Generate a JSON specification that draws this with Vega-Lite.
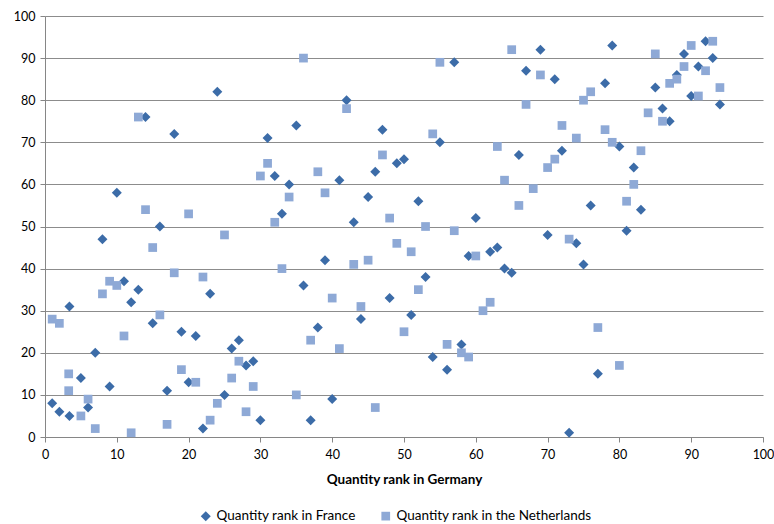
{
  "$schema": "https://vega.github.io/schema/vega-lite/v6.json",
  "width": 718,
  "height": 421,
  "autosize": {"type": "none"},
  "padding": {"left": 45, "top": 16, "right": 11, "bottom": 87},
  "background": "white",
  "config": {
    "view": {"stroke": null},
    "font": "Lato",
    "axis": {
      "labelFont": "Lato",
      "titleFont": "Lato",
      "labelColor": "#000000",
      "titleColor": "#000000",
      "labelFontSize": 12.5,
      "domainColor": "#868686",
      "tickColor": "#868686",
      "tickSize": 5
    }
  },
  "datasets": {
    "ranks": [
      {"germany": 1, "rank": 8, "series": "Quantity rank in France"},
      {"germany": 2, "rank": 6, "series": "Quantity rank in France"},
      {"germany": 3.4, "rank": 31, "series": "Quantity rank in France"},
      {"germany": 3.4, "rank": 5, "series": "Quantity rank in France"},
      {"germany": 5, "rank": 14, "series": "Quantity rank in France"},
      {"germany": 6, "rank": 7, "series": "Quantity rank in France"},
      {"germany": 7, "rank": 20, "series": "Quantity rank in France"},
      {"germany": 8, "rank": 47, "series": "Quantity rank in France"},
      {"germany": 9, "rank": 12, "series": "Quantity rank in France"},
      {"germany": 10, "rank": 58, "series": "Quantity rank in France"},
      {"germany": 11, "rank": 37, "series": "Quantity rank in France"},
      {"germany": 12, "rank": 32, "series": "Quantity rank in France"},
      {"germany": 13, "rank": 35, "series": "Quantity rank in France"},
      {"germany": 14, "rank": 76, "series": "Quantity rank in France"},
      {"germany": 15, "rank": 27, "series": "Quantity rank in France"},
      {"germany": 16, "rank": 50, "series": "Quantity rank in France"},
      {"germany": 17, "rank": 11, "series": "Quantity rank in France"},
      {"germany": 18, "rank": 72, "series": "Quantity rank in France"},
      {"germany": 19, "rank": 25, "series": "Quantity rank in France"},
      {"germany": 20, "rank": 13, "series": "Quantity rank in France"},
      {"germany": 21, "rank": 24, "series": "Quantity rank in France"},
      {"germany": 22, "rank": 2, "series": "Quantity rank in France"},
      {"germany": 23, "rank": 34, "series": "Quantity rank in France"},
      {"germany": 24, "rank": 82, "series": "Quantity rank in France"},
      {"germany": 25, "rank": 10, "series": "Quantity rank in France"},
      {"germany": 26, "rank": 21, "series": "Quantity rank in France"},
      {"germany": 27, "rank": 23, "series": "Quantity rank in France"},
      {"germany": 28, "rank": 17, "series": "Quantity rank in France"},
      {"germany": 29, "rank": 18, "series": "Quantity rank in France"},
      {"germany": 30, "rank": 4, "series": "Quantity rank in France"},
      {"germany": 31, "rank": 71, "series": "Quantity rank in France"},
      {"germany": 32, "rank": 62, "series": "Quantity rank in France"},
      {"germany": 33, "rank": 53, "series": "Quantity rank in France"},
      {"germany": 34, "rank": 60, "series": "Quantity rank in France"},
      {"germany": 35, "rank": 74, "series": "Quantity rank in France"},
      {"germany": 36, "rank": 36, "series": "Quantity rank in France"},
      {"germany": 37, "rank": 4, "series": "Quantity rank in France"},
      {"germany": 38, "rank": 26, "series": "Quantity rank in France"},
      {"germany": 39, "rank": 42, "series": "Quantity rank in France"},
      {"germany": 40, "rank": 9, "series": "Quantity rank in France"},
      {"germany": 41, "rank": 61, "series": "Quantity rank in France"},
      {"germany": 42, "rank": 80, "series": "Quantity rank in France"},
      {"germany": 43, "rank": 51, "series": "Quantity rank in France"},
      {"germany": 44, "rank": 28, "series": "Quantity rank in France"},
      {"germany": 45, "rank": 57, "series": "Quantity rank in France"},
      {"germany": 46, "rank": 63, "series": "Quantity rank in France"},
      {"germany": 47, "rank": 73, "series": "Quantity rank in France"},
      {"germany": 48, "rank": 33, "series": "Quantity rank in France"},
      {"germany": 49, "rank": 65, "series": "Quantity rank in France"},
      {"germany": 50, "rank": 66, "series": "Quantity rank in France"},
      {"germany": 51, "rank": 29, "series": "Quantity rank in France"},
      {"germany": 52, "rank": 56, "series": "Quantity rank in France"},
      {"germany": 53, "rank": 38, "series": "Quantity rank in France"},
      {"germany": 54, "rank": 19, "series": "Quantity rank in France"},
      {"germany": 55, "rank": 70, "series": "Quantity rank in France"},
      {"germany": 56, "rank": 16, "series": "Quantity rank in France"},
      {"germany": 57, "rank": 89, "series": "Quantity rank in France"},
      {"germany": 58, "rank": 22, "series": "Quantity rank in France"},
      {"germany": 59, "rank": 43, "series": "Quantity rank in France"},
      {"germany": 60, "rank": 52, "series": "Quantity rank in France"},
      {"germany": 62, "rank": 44, "series": "Quantity rank in France"},
      {"germany": 63, "rank": 45, "series": "Quantity rank in France"},
      {"germany": 64, "rank": 40, "series": "Quantity rank in France"},
      {"germany": 65, "rank": 39, "series": "Quantity rank in France"},
      {"germany": 66, "rank": 67, "series": "Quantity rank in France"},
      {"germany": 67, "rank": 87, "series": "Quantity rank in France"},
      {"germany": 69, "rank": 92, "series": "Quantity rank in France"},
      {"germany": 70, "rank": 48, "series": "Quantity rank in France"},
      {"germany": 71, "rank": 85, "series": "Quantity rank in France"},
      {"germany": 72, "rank": 68, "series": "Quantity rank in France"},
      {"germany": 73, "rank": 1, "series": "Quantity rank in France"},
      {"germany": 74, "rank": 46, "series": "Quantity rank in France"},
      {"germany": 75, "rank": 41, "series": "Quantity rank in France"},
      {"germany": 76, "rank": 55, "series": "Quantity rank in France"},
      {"germany": 77, "rank": 15, "series": "Quantity rank in France"},
      {"germany": 78, "rank": 84, "series": "Quantity rank in France"},
      {"germany": 79, "rank": 93, "series": "Quantity rank in France"},
      {"germany": 80, "rank": 69, "series": "Quantity rank in France"},
      {"germany": 81, "rank": 49, "series": "Quantity rank in France"},
      {"germany": 82, "rank": 64, "series": "Quantity rank in France"},
      {"germany": 83, "rank": 54, "series": "Quantity rank in France"},
      {"germany": 85, "rank": 83, "series": "Quantity rank in France"},
      {"germany": 86, "rank": 78, "series": "Quantity rank in France"},
      {"germany": 87, "rank": 75, "series": "Quantity rank in France"},
      {"germany": 88, "rank": 86, "series": "Quantity rank in France"},
      {"germany": 89, "rank": 91, "series": "Quantity rank in France"},
      {"germany": 90, "rank": 81, "series": "Quantity rank in France"},
      {"germany": 91, "rank": 88, "series": "Quantity rank in France"},
      {"germany": 92, "rank": 94, "series": "Quantity rank in France"},
      {"germany": 93, "rank": 90, "series": "Quantity rank in France"},
      {"germany": 94, "rank": 79, "series": "Quantity rank in France"},
      {"germany": 1, "rank": 28, "series": "Quantity rank in the Netherlands"},
      {"germany": 2, "rank": 27, "series": "Quantity rank in the Netherlands"},
      {"germany": 3.3, "rank": 15, "series": "Quantity rank in the Netherlands"},
      {"germany": 3.3, "rank": 11, "series": "Quantity rank in the Netherlands"},
      {"germany": 5, "rank": 5, "series": "Quantity rank in the Netherlands"},
      {"germany": 6, "rank": 9, "series": "Quantity rank in the Netherlands"},
      {"germany": 7, "rank": 2, "series": "Quantity rank in the Netherlands"},
      {"germany": 8, "rank": 34, "series": "Quantity rank in the Netherlands"},
      {"germany": 9, "rank": 37, "series": "Quantity rank in the Netherlands"},
      {"germany": 10, "rank": 36, "series": "Quantity rank in the Netherlands"},
      {"germany": 11, "rank": 24, "series": "Quantity rank in the Netherlands"},
      {"germany": 12, "rank": 1, "series": "Quantity rank in the Netherlands"},
      {"germany": 13, "rank": 76, "series": "Quantity rank in the Netherlands"},
      {"germany": 14, "rank": 54, "series": "Quantity rank in the Netherlands"},
      {"germany": 15, "rank": 45, "series": "Quantity rank in the Netherlands"},
      {"germany": 16, "rank": 29, "series": "Quantity rank in the Netherlands"},
      {"germany": 17, "rank": 3, "series": "Quantity rank in the Netherlands"},
      {"germany": 18, "rank": 39, "series": "Quantity rank in the Netherlands"},
      {"germany": 19, "rank": 16, "series": "Quantity rank in the Netherlands"},
      {"germany": 20, "rank": 53, "series": "Quantity rank in the Netherlands"},
      {"germany": 21, "rank": 13, "series": "Quantity rank in the Netherlands"},
      {"germany": 22, "rank": 38, "series": "Quantity rank in the Netherlands"},
      {"germany": 23, "rank": 4, "series": "Quantity rank in the Netherlands"},
      {"germany": 24, "rank": 8, "series": "Quantity rank in the Netherlands"},
      {"germany": 25, "rank": 48, "series": "Quantity rank in the Netherlands"},
      {"germany": 26, "rank": 14, "series": "Quantity rank in the Netherlands"},
      {"germany": 27, "rank": 18, "series": "Quantity rank in the Netherlands"},
      {"germany": 28, "rank": 6, "series": "Quantity rank in the Netherlands"},
      {"germany": 29, "rank": 12, "series": "Quantity rank in the Netherlands"},
      {"germany": 30, "rank": 62, "series": "Quantity rank in the Netherlands"},
      {"germany": 31, "rank": 65, "series": "Quantity rank in the Netherlands"},
      {"germany": 32, "rank": 51, "series": "Quantity rank in the Netherlands"},
      {"germany": 33, "rank": 40, "series": "Quantity rank in the Netherlands"},
      {"germany": 34, "rank": 57, "series": "Quantity rank in the Netherlands"},
      {"germany": 35, "rank": 10, "series": "Quantity rank in the Netherlands"},
      {"germany": 36, "rank": 90, "series": "Quantity rank in the Netherlands"},
      {"germany": 37, "rank": 23, "series": "Quantity rank in the Netherlands"},
      {"germany": 38, "rank": 63, "series": "Quantity rank in the Netherlands"},
      {"germany": 39, "rank": 58, "series": "Quantity rank in the Netherlands"},
      {"germany": 40, "rank": 33, "series": "Quantity rank in the Netherlands"},
      {"germany": 41, "rank": 21, "series": "Quantity rank in the Netherlands"},
      {"germany": 42, "rank": 78, "series": "Quantity rank in the Netherlands"},
      {"germany": 43, "rank": 41, "series": "Quantity rank in the Netherlands"},
      {"germany": 44, "rank": 31, "series": "Quantity rank in the Netherlands"},
      {"germany": 45, "rank": 42, "series": "Quantity rank in the Netherlands"},
      {"germany": 46, "rank": 7, "series": "Quantity rank in the Netherlands"},
      {"germany": 47, "rank": 67, "series": "Quantity rank in the Netherlands"},
      {"germany": 48, "rank": 52, "series": "Quantity rank in the Netherlands"},
      {"germany": 49, "rank": 46, "series": "Quantity rank in the Netherlands"},
      {"germany": 50, "rank": 25, "series": "Quantity rank in the Netherlands"},
      {"germany": 51, "rank": 44, "series": "Quantity rank in the Netherlands"},
      {"germany": 52, "rank": 35, "series": "Quantity rank in the Netherlands"},
      {"germany": 53, "rank": 50, "series": "Quantity rank in the Netherlands"},
      {"germany": 54, "rank": 72, "series": "Quantity rank in the Netherlands"},
      {"germany": 55, "rank": 89, "series": "Quantity rank in the Netherlands"},
      {"germany": 56, "rank": 22, "series": "Quantity rank in the Netherlands"},
      {"germany": 57, "rank": 49, "series": "Quantity rank in the Netherlands"},
      {"germany": 58, "rank": 20, "series": "Quantity rank in the Netherlands"},
      {"germany": 59, "rank": 19, "series": "Quantity rank in the Netherlands"},
      {"germany": 60, "rank": 43, "series": "Quantity rank in the Netherlands"},
      {"germany": 61, "rank": 30, "series": "Quantity rank in the Netherlands"},
      {"germany": 62, "rank": 32, "series": "Quantity rank in the Netherlands"},
      {"germany": 63, "rank": 69, "series": "Quantity rank in the Netherlands"},
      {"germany": 64, "rank": 61, "series": "Quantity rank in the Netherlands"},
      {"germany": 65, "rank": 92, "series": "Quantity rank in the Netherlands"},
      {"germany": 66, "rank": 55, "series": "Quantity rank in the Netherlands"},
      {"germany": 67, "rank": 79, "series": "Quantity rank in the Netherlands"},
      {"germany": 68, "rank": 59, "series": "Quantity rank in the Netherlands"},
      {"germany": 69, "rank": 86, "series": "Quantity rank in the Netherlands"},
      {"germany": 70, "rank": 64, "series": "Quantity rank in the Netherlands"},
      {"germany": 71, "rank": 66, "series": "Quantity rank in the Netherlands"},
      {"germany": 72, "rank": 74, "series": "Quantity rank in the Netherlands"},
      {"germany": 73, "rank": 47, "series": "Quantity rank in the Netherlands"},
      {"germany": 74, "rank": 71, "series": "Quantity rank in the Netherlands"},
      {"germany": 75, "rank": 80, "series": "Quantity rank in the Netherlands"},
      {"germany": 76, "rank": 82, "series": "Quantity rank in the Netherlands"},
      {"germany": 77, "rank": 26, "series": "Quantity rank in the Netherlands"},
      {"germany": 78, "rank": 73, "series": "Quantity rank in the Netherlands"},
      {"germany": 79, "rank": 70, "series": "Quantity rank in the Netherlands"},
      {"germany": 80, "rank": 17, "series": "Quantity rank in the Netherlands"},
      {"germany": 81, "rank": 56, "series": "Quantity rank in the Netherlands"},
      {"germany": 82, "rank": 60, "series": "Quantity rank in the Netherlands"},
      {"germany": 83, "rank": 68, "series": "Quantity rank in the Netherlands"},
      {"germany": 84, "rank": 77, "series": "Quantity rank in the Netherlands"},
      {"germany": 85, "rank": 91, "series": "Quantity rank in the Netherlands"},
      {"germany": 86, "rank": 75, "series": "Quantity rank in the Netherlands"},
      {"germany": 87, "rank": 84, "series": "Quantity rank in the Netherlands"},
      {"germany": 88, "rank": 85, "series": "Quantity rank in the Netherlands"},
      {"germany": 89, "rank": 88, "series": "Quantity rank in the Netherlands"},
      {"germany": 90, "rank": 93, "series": "Quantity rank in the Netherlands"},
      {"germany": 91, "rank": 81, "series": "Quantity rank in the Netherlands"},
      {"germany": 92, "rank": 87, "series": "Quantity rank in the Netherlands"},
      {"germany": 93, "rank": 94, "series": "Quantity rank in the Netherlands"},
      {"germany": 94, "rank": 83, "series": "Quantity rank in the Netherlands"}
    ]
  },
  "data": {"name": "ranks"},
  "mark": {"type": "point", "filled": true, "opacity": 1, "strokeWidth": 0},
  "encoding": {
    "x": {
      "field": "germany",
      "type": "quantitative",
      "scale": {"domain": [0, 100], "nice": false},
      "axis": {
        "title": "Quantity rank in Germany",
        "values": [0, 10, 20, 30, 40, 50, 60, 70, 80, 90, 100],
        "grid": false,
        "labelPadding": 6,
        "labelFlush": false,
        "titleFontSize": 13.5,
        "titleFontWeight": "bold",
        "titlePadding": 12
      }
    },
    "y": {
      "field": "rank",
      "type": "quantitative",
      "scale": {"domain": [0, 100], "nice": false},
      "axis": {
        "title": null,
        "values": [0, 10, 20, 30, 40, 50, 60, 70, 80, 90, 100],
        "grid": true,
        "gridColor": "#8c8c8c",
        "gridWidth": 1,
        "labelPadding": 5,
        "labelFlush": false
      }
    },
    "color": {
      "field": "series",
      "type": "nominal",
      "sort": null,
      "scale": {
        "domain": ["Quantity rank in France", "Quantity rank in the Netherlands"],
        "range": ["#3C6CA8", "#8EA9D6"]
      },
      "legend": {
        "title": null,
        "orient": "none",
        "direction": "horizontal",
        "legendX": 154,
        "legendY": 493,
        "labelFont": "Lato",
        "labelFontSize": 13.5,
        "labelColor": "#000000",
        "labelLimit": 0,
        "symbolSize": 60,
        "symbolStrokeWidth": 0,
        "labelOffset": 4,
        "columnPadding": 23
      }
    },
    "shape": {
      "field": "series",
      "type": "nominal",
      "sort": null,
      "scale": {
        "domain": ["Quantity rank in France", "Quantity rank in the Netherlands"],
        "range": ["diamond", "square"]
      }
    },
    "size": {
      "field": "series",
      "type": "nominal",
      "sort": null,
      "scale": {
        "domain": ["Quantity rank in France", "Quantity rank in the Netherlands"],
        "range": [100, 76]
      },
      "legend": null
    }
  }
}
